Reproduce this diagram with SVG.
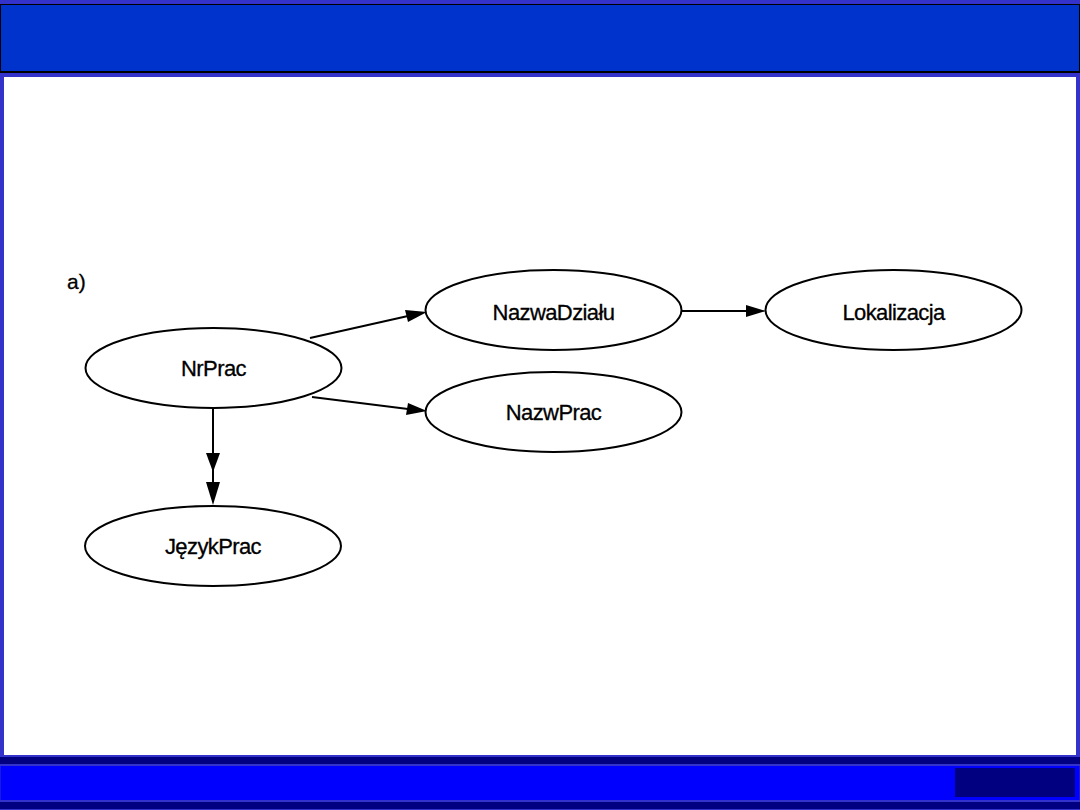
<svg xmlns="http://www.w3.org/2000/svg" width="1080" height="810" viewBox="0 0 1080 810">
<defs>
<style>
.node ellipse{fill:#fff;stroke:#000;stroke-width:2}
.node text,.lbl{font-family:"Liberation Sans",Arial,sans-serif;font-size:22px;letter-spacing:-0.6px;fill:#000;stroke:#000;stroke-width:0.3;text-anchor:middle}
.edge{stroke:#000;stroke-width:2;fill:none}
.head{fill:#000}
</style>
</defs>
<rect x="0" y="0" width="1080" height="810" fill="#3333cc"/>
<rect x="0.5" y="4.5" width="1079" height="67" fill="#0033cc" stroke="#000" stroke-width="1"/>
<rect x="0" y="71" width="1080" height="2" fill="#000"/>
<rect x="4" y="77" width="1072" height="678" fill="#fff"/>
<rect x="0" y="757" width="1080" height="7" fill="#000080"/>
<rect x="0.5" y="766" width="1079" height="34" fill="#0000ff"/>
<rect x="955" y="768" width="120" height="29" fill="#000080"/>
<rect x="0" y="802" width="1080" height="7" fill="#000080"/>

<text class="lbl" x="67" y="289" style="text-anchor:start;font-size:21px;letter-spacing:0;stroke:#000;stroke-width:0.3">a)</text>

<g id="connectors">
<line class="edge" x1="310" y1="338" x2="408" y2="316"/>
<polygon class="head" points="427,312 405,310 408,322"/>
<line class="edge" x1="312" y1="397" x2="408" y2="409"/>
<polygon class="head" points="427,411 408,403 406,415"/>
<line class="edge" x1="682" y1="311" x2="748" y2="311"/>
<polygon class="head" points="766,311 746,305 746,317"/>
<line class="edge" x1="213" y1="408" x2="213" y2="486"/>
<polygon class="head" points="213,472 206,453 220,453"/>
<polygon class="head" points="213,505 206,482 220,482"/>
</g>

<g id="NrPrac" class="node">
<ellipse cx="213.5" cy="368" rx="128" ry="40"/>
<text x="213.5" y="376">NrPrac</text>
</g>
<g id="NazwaDzialu" class="node">
<ellipse cx="553.5" cy="310" rx="128" ry="40"/>
<text x="553.5" y="320">NazwaDziału</text>
</g>
<g id="Lokalizacja" class="node">
<ellipse cx="893.5" cy="310" rx="128" ry="40"/>
<text x="893.5" y="320">Lokalizacja</text>
</g>
<g id="NazwPrac" class="node">
<ellipse cx="553.5" cy="412" rx="128" ry="40"/>
<text x="553.5" y="420">NazwPrac</text>
</g>
<g id="JezykPrac" class="node">
<ellipse cx="213" cy="546" rx="128" ry="40"/>
<text x="213" y="554">JęzykPrac</text>
</g>
</svg>
